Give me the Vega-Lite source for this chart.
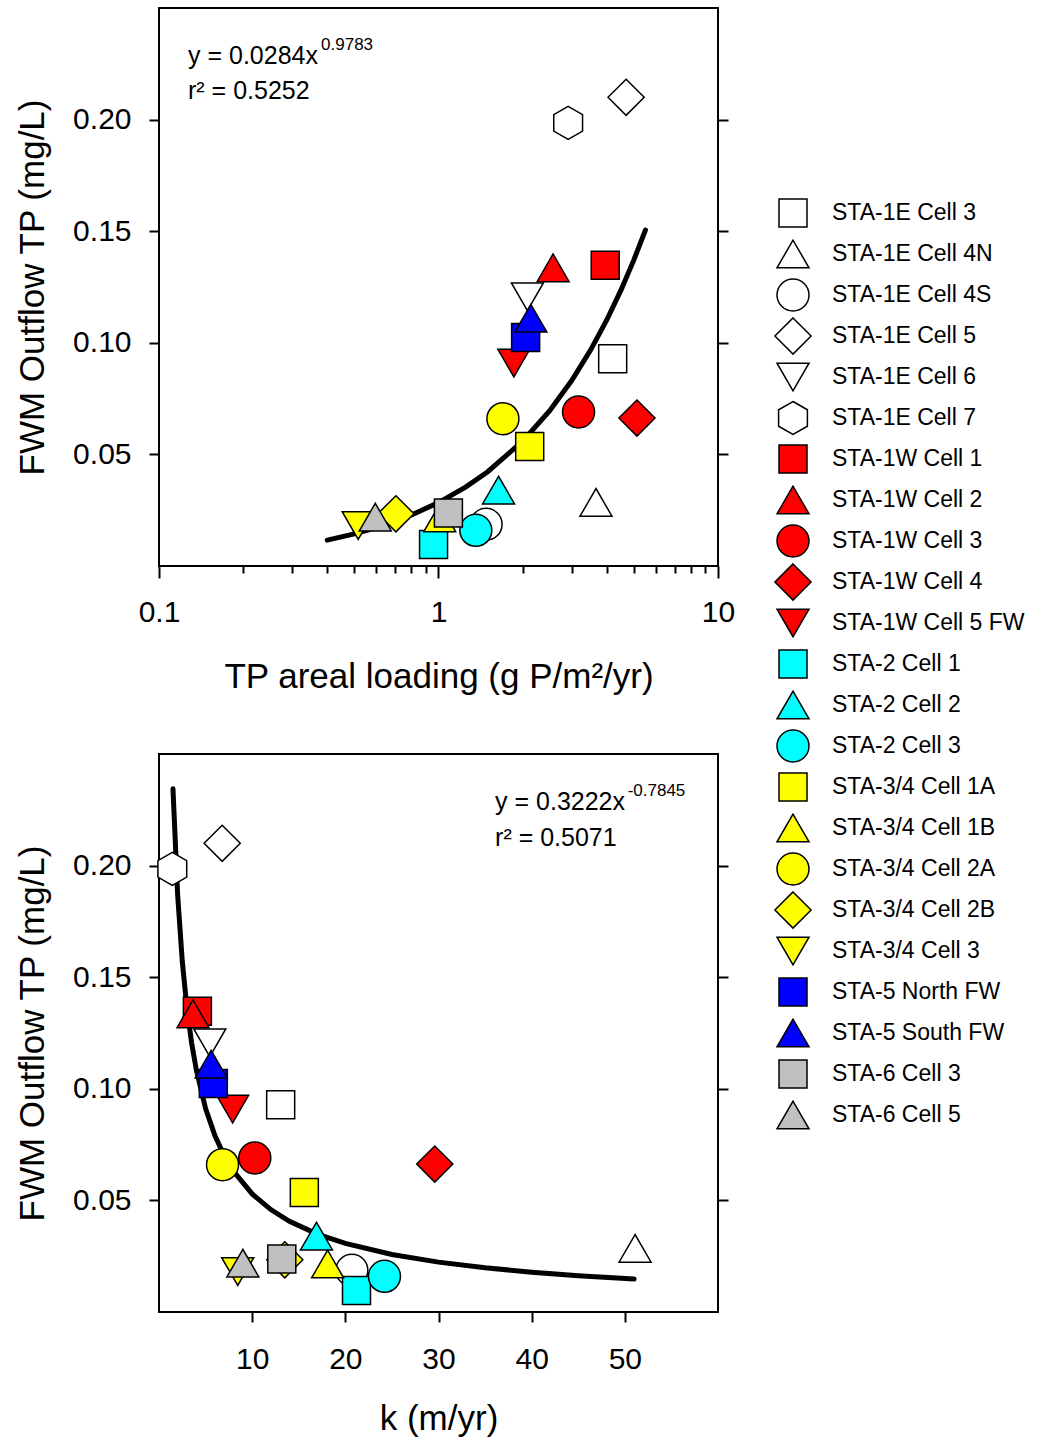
{
  "$schema": "https://vega.github.io/schema/vega-lite/v6.json",
  "padding": {"left": 14, "top": 7, "right": 5, "bottom": 5},
  "config": {
    "font": "Liberation Sans",
    "view": {"stroke": "black", "strokeWidth": 2},
    "axis": {"domain": false, "grid": false, "tickColor": "black", "tickWidth": 2, "labelColor": "black", "titleColor": "black", "labelFont": "Liberation Sans", "titleFont": "Liberation Sans", "labelFontSize": 30, "titleFontSize": 35, "titleFontWeight": "normal", "labelFlush": false},
    "legend": {"orient": "none", "legendX": 617, "legendY": 188, "padding": 0, "symbolSize": 1024, "rowPadding": -3, "labelOffset": 22, "labelFontSize": 23, "labelFont": "Liberation Sans", "labelColor": "black", "labelLimit": 0, "symbolStrokeWidth": 1.5, "labelBaseline": "middle", "gridAlign": "all"}
  },
  "datasets": {
    "sites": [
      {"site": "STA-1E Cell 3", "load": 4.20, "k": 13.06, "tp": 0.0929},
      {"site": "STA-1E Cell 4N", "load": 3.66, "k": 51.1, "tp": 0.0285},
      {"site": "STA-1E Cell 4S", "load": 1.48, "k": 20.7, "tp": 0.0187},
      {"site": "STA-1E Cell 5", "load": 4.69, "k": 6.78, "tp": 0.210},
      {"site": "STA-1E Cell 6", "load": 2.08, "k": 5.45, "tp": 0.1206},
      {"site": "STA-1E Cell 7", "load": 2.91, "k": 1.43, "tp": 0.1985},
      {"site": "STA-1W Cell 1", "load": 3.95, "k": 4.12, "tp": 0.1347},
      {"site": "STA-1W Cell 2", "load": 2.57, "k": 3.65, "tp": 0.1336},
      {"site": "STA-1W Cell 3", "load": 3.17, "k": 10.28, "tp": 0.069},
      {"site": "STA-1W Cell 4", "load": 5.13, "k": 29.6, "tp": 0.0663},
      {"site": "STA-1W Cell 5 FW", "load": 1.86, "k": 7.9, "tp": 0.0909},
      {"site": "STA-2 Cell 1", "load": 0.96, "k": 21.2, "tp": 0.0096},
      {"site": "STA-2 Cell 2", "load": 1.64, "k": 16.9, "tp": 0.034},
      {"site": "STA-2 Cell 3", "load": 1.36, "k": 24.2, "tp": 0.016},
      {"site": "STA-3/4 Cell 1A", "load": 2.12, "k": 15.6, "tp": 0.0535},
      {"site": "STA-3/4 Cell 1B", "load": 1.01, "k": 18.1, "tp": 0.0215},
      {"site": "STA-3/4 Cell 2A", "load": 1.70, "k": 6.82, "tp": 0.066},
      {"site": "STA-3/4 Cell 2B", "load": 0.704, "k": 13.5, "tp": 0.0234},
      {"site": "STA-3/4 Cell 3", "load": 0.516, "k": 8.45, "tp": 0.0181},
      {"site": "STA-5 North FW", "load": 2.05, "k": 5.83, "tp": 0.1024},
      {"site": "STA-5 South FW", "load": 2.14, "k": 5.6, "tp": 0.111},
      {"site": "STA-6 Cell 3", "load": 1.085, "k": 13.18, "tp": 0.0237},
      {"site": "STA-6 Cell 5", "load": 0.594, "k": 9.0, "tp": 0.0219}
    ],
    "fit1": [
      {"x": 0.4, "y": 0.01159}, {"x": 0.5, "y": 0.01442}, {"x": 0.6, "y": 0.01723}, {"x": 0.7, "y": 0.02003},
      {"x": 0.8, "y": 0.02283}, {"x": 1.0, "y": 0.0284}, {"x": 1.25, "y": 0.03533}, {"x": 1.5, "y": 0.04223},
      {"x": 2.0, "y": 0.05595}, {"x": 2.5, "y": 0.06961}, {"x": 3.0, "y": 0.0832}, {"x": 3.5, "y": 0.09674},
      {"x": 4.0, "y": 0.11023}, {"x": 4.5, "y": 0.1237}, {"x": 5.0, "y": 0.13713}, {"x": 5.5, "y": 0.1505}
    ],
    "fit2": [
      {"x": 1.5, "y": 0.2344}, {"x": 2, "y": 0.18703}, {"x": 2.5, "y": 0.15701}, {"x": 3, "y": 0.1361},
      {"x": 3.5, "y": 0.1206}, {"x": 4, "y": 0.10861}, {"x": 5, "y": 0.09115}, {"x": 6, "y": 0.079},
      {"x": 7, "y": 0.07001}, {"x": 8, "y": 0.06305}, {"x": 10, "y": 0.05291}, {"x": 12, "y": 0.04588},
      {"x": 14, "y": 0.04066}, {"x": 17, "y": 0.0349}, {"x": 20, "y": 0.03072}, {"x": 25, "y": 0.02579},
      {"x": 30, "y": 0.02235}, {"x": 35, "y": 0.01981}, {"x": 40, "y": 0.01784}, {"x": 45, "y": 0.01626},
      {"x": 51, "y": 0.01474}
    ]
  },
  "spacing": 58,
  "vconcat": [
    {
      "width": 559,
      "height": 558,
      "layer": [
        {
          "data": {"name": "fit1"},
          "mark": {"type": "line", "color": "black", "strokeWidth": 5, "strokeCap": "round"},
          "encoding": {
            "x": {"field": "x", "type": "quantitative", "scale": {"type": "log", "domain": [0.1, 10], "nice": false},
                  "axis": {"orient": "bottom", "values": [0.2, 0.3, 0.4, 0.5, 0.6, 0.7, 0.8, 0.9, 2, 3, 4, 5, 6, 7, 8, 9], "labels": false, "tickSize": 7, "title": null}},
            "y": {"field": "y", "type": "quantitative", "scale": {"domain": [0, 0.25], "nice": false, "zero": false},
                  "axis": {"orient": "right", "values": [0.05, 0.1, 0.15, 0.2], "labels": false, "tickSize": 10, "title": null}}
          }
        },
        {
          "data": {"name": "sites"},
          "mark": {"type": "point", "filled": false, "opacity": 1, "fillOpacity": 1, "stroke": "black", "strokeWidth": 1.5, "size": 1024},
          "encoding": {
            "x": {"field": "load", "type": "quantitative", "scale": {"type": "log", "domain": [0.1, 10], "nice": false},
                  "axis": {"orient": "bottom", "values": [0.1, 1, 10], "tickSize": 12, "labelPadding": 19, "titlePadding": 32, "title": "TP areal loading (g P/m²/yr)", "labelExpr": "datum.value < 0.5 ? '0.1' : (datum.value > 5 ? '10' : '1')"}},
            "y": {"field": "tp", "type": "quantitative", "scale": {"domain": [0, 0.25], "nice": false, "zero": false},
                  "axis": {"orient": "left", "values": [0.05, 0.1, 0.15, 0.2], "format": ".2f", "tickSize": 10, "labelPadding": 18, "titlePadding": 22, "title": "FWM Outflow TP (mg/L)"}},
            "shape": {"field": "site", "type": "nominal", "sort": null, "title": null,
              "legend": {"encode": {"symbols": {"stroke": {"value": "black"}, "strokeWidth": {"value": 1.5}}}},
              "scale": {"domain": ["STA-1E Cell 3", "STA-1E Cell 4N", "STA-1E Cell 4S", "STA-1E Cell 5", "STA-1E Cell 6", "STA-1E Cell 7", "STA-1W Cell 1", "STA-1W Cell 2", "STA-1W Cell 3", "STA-1W Cell 4", "STA-1W Cell 5 FW", "STA-2 Cell 1", "STA-2 Cell 2", "STA-2 Cell 3", "STA-3/4 Cell 1A", "STA-3/4 Cell 1B", "STA-3/4 Cell 2A", "STA-3/4 Cell 2B", "STA-3/4 Cell 3", "STA-5 North FW", "STA-5 South FW", "STA-6 Cell 3", "STA-6 Cell 5"],
                "range": ["M-0.875,-0.875L0.875,-0.875L0.875,0.875L-0.875,0.875Z", "triangle-up", "circle", "M0,-1.13L1.13,0L0,1.13L-1.13,0Z", "triangle-down", "M0,-1.03L0.9,-0.515L0.9,0.515L0,1.03L-0.9,0.515L-0.9,-0.515Z",
                          "M-0.875,-0.875L0.875,-0.875L0.875,0.875L-0.875,0.875Z", "triangle-up", "circle", "M0,-1.13L1.13,0L0,1.13L-1.13,0Z", "triangle-down",
                          "M-0.875,-0.875L0.875,-0.875L0.875,0.875L-0.875,0.875Z", "triangle-up", "circle",
                          "M-0.875,-0.875L0.875,-0.875L0.875,0.875L-0.875,0.875Z", "triangle-up", "circle", "M0,-1.13L1.13,0L0,1.13L-1.13,0Z", "triangle-down",
                          "M-0.875,-0.875L0.875,-0.875L0.875,0.875L-0.875,0.875Z", "triangle-up",
                          "M-0.875,-0.875L0.875,-0.875L0.875,0.875L-0.875,0.875Z", "triangle-up"]}},
            "fill": {"field": "site", "type": "nominal", "sort": null, "title": null,
              "legend": {"encode": {"symbols": {"stroke": {"value": "black"}, "strokeWidth": {"value": 1.5}}}},
              "scale": {"domain": ["STA-1E Cell 3", "STA-1E Cell 4N", "STA-1E Cell 4S", "STA-1E Cell 5", "STA-1E Cell 6", "STA-1E Cell 7", "STA-1W Cell 1", "STA-1W Cell 2", "STA-1W Cell 3", "STA-1W Cell 4", "STA-1W Cell 5 FW", "STA-2 Cell 1", "STA-2 Cell 2", "STA-2 Cell 3", "STA-3/4 Cell 1A", "STA-3/4 Cell 1B", "STA-3/4 Cell 2A", "STA-3/4 Cell 2B", "STA-3/4 Cell 3", "STA-5 North FW", "STA-5 South FW", "STA-6 Cell 3", "STA-6 Cell 5"],
                "range": ["#ffffff", "#ffffff", "#ffffff", "#ffffff", "#ffffff", "#ffffff", "#ff0000", "#ff0000", "#ff0000", "#ff0000", "#ff0000", "#00ffff", "#00ffff", "#00ffff", "#ffff00", "#ffff00", "#ffff00", "#ffff00", "#ffff00", "#0000ff", "#0000ff", "#c0c0c0", "#c0c0c0"]}}
          }
        },
        {
          "data": {"values": [{"t": "y = 0.0284x"}]},
          "mark": {"type": "text", "align": "left", "baseline": "alphabetic", "fontSize": 25, "color": "black"},
          "encoding": {"x": {"datum": 0.127, "type": "quantitative", "axis": null}, "y": {"datum": 0.2249, "type": "quantitative", "axis": null}, "text": {"field": "t"}}
        },
        {
          "data": {"values": [{"t": "0.9783"}]},
          "mark": {"type": "text", "align": "left", "baseline": "alphabetic", "fontSize": 17, "color": "black"},
          "encoding": {"x": {"datum": 0.38, "type": "quantitative", "axis": null}, "y": {"datum": 0.2312, "type": "quantitative", "axis": null}, "text": {"field": "t"}}
        },
        {
          "data": {"values": [{"t": "r² = 0.5252"}]},
          "mark": {"type": "text", "align": "left", "baseline": "alphabetic", "fontSize": 25, "color": "black"},
          "encoding": {"x": {"datum": 0.127, "type": "quantitative", "axis": null}, "y": {"datum": 0.2092, "type": "quantitative", "axis": null}, "text": {"field": "t"}}
        }
      ],
      "resolve": {"axis": {"x": "independent", "y": "independent"}}
    },
    {
      "width": 559,
      "height": 558,
      "layer": [
        {
          "data": {"name": "fit2"},
          "mark": {"type": "line", "color": "black", "strokeWidth": 5, "strokeCap": "round"},
          "encoding": {
            "x": {"field": "x", "type": "quantitative", "scale": {"domain": [0, 60], "nice": false}, "axis": null},
            "y": {"field": "y", "type": "quantitative", "scale": {"domain": [0, 0.25], "nice": false, "zero": false},
                  "axis": {"orient": "right", "values": [0.05, 0.1, 0.15, 0.2], "labels": false, "tickSize": 10, "title": null}}
          }
        },
        {
          "data": {"name": "sites"},
          "mark": {"type": "point", "filled": false, "opacity": 1, "fillOpacity": 1, "stroke": "black", "strokeWidth": 1.5, "size": 1024},
          "encoding": {
            "x": {"field": "k", "type": "quantitative", "scale": {"domain": [0, 60], "nice": false},
                  "axis": {"orient": "bottom", "values": [10, 20, 30, 40, 50], "format": "d", "tickSize": 10, "labelPadding": 22, "titlePadding": 27, "title": "k (m/yr)"}},
            "y": {"field": "tp", "type": "quantitative", "scale": {"domain": [0, 0.25], "nice": false, "zero": false},
                  "axis": {"orient": "left", "values": [0.05, 0.1, 0.15, 0.2], "format": ".2f", "tickSize": 10, "labelPadding": 18, "titlePadding": 22, "title": "FWM Outflow TP (mg/L)"}},
            "shape": {"field": "site", "type": "nominal", "sort": null, "title": null,
              "legend": {"encode": {"symbols": {"stroke": {"value": "black"}, "strokeWidth": {"value": 1.5}}}}},
            "fill": {"field": "site", "type": "nominal", "sort": null, "title": null,
              "legend": {"encode": {"symbols": {"stroke": {"value": "black"}, "strokeWidth": {"value": 1.5}}}}}
          }
        },
        {
          "data": {"values": [{"t": "y = 0.3222x"}]},
          "mark": {"type": "text", "align": "left", "baseline": "alphabetic", "fontSize": 25, "color": "black"},
          "encoding": {"x": {"datum": 36.07, "type": "quantitative", "axis": null}, "y": {"datum": 0.225, "type": "quantitative", "axis": null}, "text": {"field": "t"}}
        },
        {
          "data": {"values": [{"t": "-0.7845"}]},
          "mark": {"type": "text", "align": "left", "baseline": "alphabetic", "fontSize": 17, "color": "black"},
          "encoding": {"x": {"datum": 50.3, "type": "quantitative", "axis": null}, "y": {"datum": 0.231, "type": "quantitative", "axis": null}, "text": {"field": "t"}}
        },
        {
          "data": {"values": [{"t": "r² = 0.5071"}]},
          "mark": {"type": "text", "align": "left", "baseline": "alphabetic", "fontSize": 25, "color": "black"},
          "encoding": {"x": {"datum": 36.07, "type": "quantitative", "axis": null}, "y": {"datum": 0.209, "type": "quantitative", "axis": null}, "text": {"field": "t"}}
        }
      ],
      "resolve": {"axis": {"x": "independent", "y": "independent"}}
    }
  ]
}
